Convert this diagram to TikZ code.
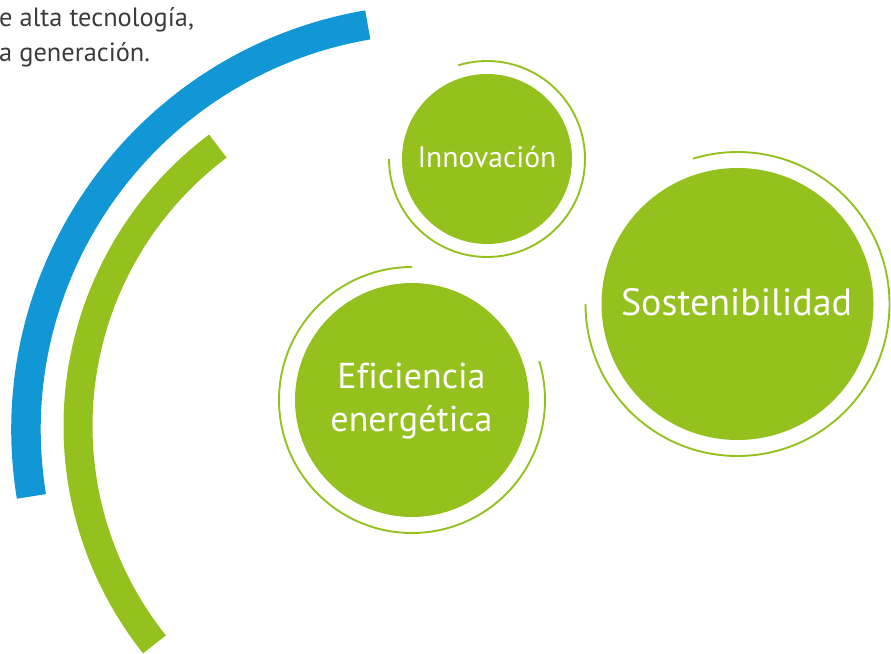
\documentclass[tikz,border=0pt]{standalone}
\usepackage{fontspec}
\setmainfont{PT Sans}[Ligatures=NoCommon]
\definecolor{lgreen}{HTML}{95C11F}
\definecolor{lblue}{HTML}{1197D6}
\definecolor{tgrey}{HTML}{3C3C3B}
\begin{document}
\begin{tikzpicture}[x=1pt,y=1pt,
  disc/.style={circle, fill=lgreen, inner sep=0pt, minimum size=#1},
  ring/.style={draw=lgreen, line width=1.9pt},
  band/.style={line width=29.5pt, line cap=butt},
  lbl/.style={text=white, anchor=base, inner sep=0pt}]
\useasboundingbox (0,0) rectangle (891,653);
\clip (0,0) rectangle (891,653);
% big arcs
\coordinate (cb) at (437,223);
\coordinate (cg) at (428,227);
\draw[band, lblue] ([shift={(99.7:411)}]cb) arc[start angle=99.7, end angle=189.3, radius=411];
\draw[band, lgreen, line width=29pt] ([shift={(126.9:350)}]cg) arc[start angle=126.9, end angle=218.6, radius=350];
% top-left text
\node[anchor=base west, inner sep=0pt, text=tgrey, font=\fontsize{26.4}{30}\selectfont] (t1) at (-1,626) {e alta tecnología,};
\node[anchor=base west, inner sep=0pt, text=tgrey, font=\fontsize{26.4}{30}\selectfont] (t2) at (-1,591) {a generación.};
% Innovacion
\node[disc=170pt] (inno) at (487,494) {};
\draw[ring] ([shift={(180:98)}]inno.center) arc[start angle=180, end angle=467, radius=98];
\node[lbl, font=\fontsize{29.6}{34}\selectfont] (innoT) at (487,485) {Innovación};
% Eficiencia
\node[disc=234pt] (efi) at (412,253) {};
\draw[ring] ([shift={(90:133)}]efi.center) arc[start angle=90, end angle=377, radius=133];
\node[lbl, font=\fontsize{36}{40}\selectfont] (efiT1) at (411.5,264) {Eficiencia};
\node[lbl, font=\fontsize{36}{40}\selectfont] (efiT2) at (411.5,221) {energética};
% Sostenibilidad
\node[disc=272pt] (sos) at (737.5,349) {};
\draw[ring] ([shift={(180:152)}]sos.center) arc[start angle=180, end angle=467, radius=152];
\node[lbl, font=\fontsize{38}{44}\selectfont] (sosT) at (736.5,337) {Sostenibilidad};
\end{tikzpicture}
\end{document}
